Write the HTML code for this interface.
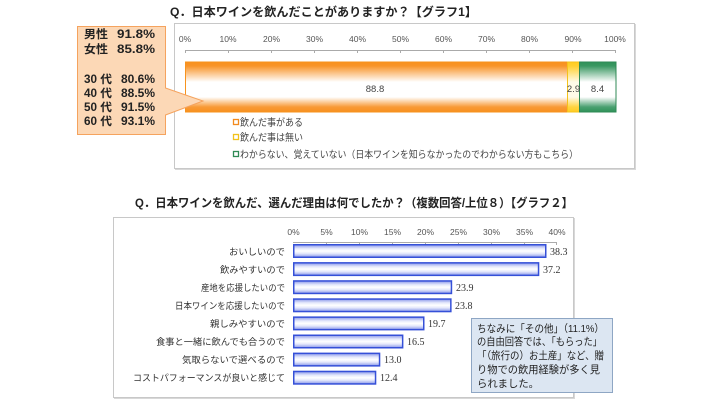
<!DOCTYPE html>
<html><head><meta charset="utf-8">
<style>
html,body{margin:0;padding:0;background:#fff;}
svg{display:block;}
text{font-family:"Liberation Sans","Noto Sans CJK JP",sans-serif;}
.serif{font-family:"Liberation Serif","Noto Serif CJK SC",serif;}
</style></head>
<body>
<svg width="715" height="400" viewBox="0 0 715 400" xmlns="http://www.w3.org/2000/svg">
<defs>
<linearGradient id="gO" x1="0" y1="0" x2="0" y2="1">
<stop offset="0" stop-color="#f7901e"/><stop offset="0.08" stop-color="#f8952a"/><stop offset="0.4" stop-color="#ffffff"/><stop offset="0.7" stop-color="#ffffff"/><stop offset="0.9" stop-color="#f89a36"/><stop offset="1" stop-color="#f7901e"/>
</linearGradient>
<linearGradient id="gY" x1="0" y1="0" x2="0" y2="1">
<stop offset="0" stop-color="#ffcc22"/><stop offset="0.08" stop-color="#ffd030"/><stop offset="0.4" stop-color="#fffbe8"/><stop offset="0.7" stop-color="#fffbe8"/><stop offset="0.9" stop-color="#ffd440"/><stop offset="1" stop-color="#ffcc22"/>
</linearGradient>
<linearGradient id="gG" x1="0" y1="0" x2="0" y2="1">
<stop offset="0" stop-color="#2f9158"/><stop offset="0.08" stop-color="#3a9862"/><stop offset="0.4" stop-color="#ffffff"/><stop offset="0.7" stop-color="#ffffff"/><stop offset="0.9" stop-color="#4aa070"/><stop offset="1" stop-color="#2f9158"/>
</linearGradient>
<linearGradient id="gB" x1="0" y1="0" x2="0" y2="1">
<stop offset="0" stop-color="#8896ea"/><stop offset="0.3" stop-color="#e4e8fb"/><stop offset="0.5" stop-color="#ffffff"/><stop offset="0.7" stop-color="#e4e8fb"/><stop offset="1" stop-color="#8896ea"/>
</linearGradient>
</defs>

<!-- ===== Chart 1 ===== -->
<text x="170" y="16" font-size="12" font-weight="bold" fill="#222" textLength="307" lengthAdjust="spacingAndGlyphs">Q．日本ワインを飲んだことがありますか？【グラフ1】</text>

<rect x="174.5" y="23.5" width="460" height="145" fill="#fff" stroke="#c8c8c8" stroke-width="1"/>
<line x1="175" y1="169.5" x2="635" y2="169.5" stroke="#d8d8d8" stroke-width="1"/>
<line x1="635.5" y1="24" x2="635.5" y2="170" stroke="#d8d8d8" stroke-width="1"/>

<g font-size="8.5" fill="#555" text-anchor="middle">
<text x="185" y="42">0%</text>
<text x="228" y="42">10%</text>
<text x="271.5" y="42">20%</text>
<text x="314.5" y="42">30%</text>
<text x="357.5" y="42">40%</text>
<text x="400.5" y="42">50%</text>
<text x="443.5" y="42">60%</text>
<text x="486.5" y="42">70%</text>
<text x="529.5" y="42">80%</text>
<text x="573" y="42">90%</text>
<text x="615" y="42">100%</text>
</g>
<g stroke="#aaa" stroke-width="1">
<line x1="185" y1="50.5" x2="616" y2="50.5"/>
<line x1="185.5" y1="50" x2="185.5" y2="53"/>
<line x1="228.5" y1="50" x2="228.5" y2="53"/>
<line x1="271.5" y1="50" x2="271.5" y2="53"/>
<line x1="314.5" y1="50" x2="314.5" y2="53"/>
<line x1="357.5" y1="50" x2="357.5" y2="53"/>
<line x1="400.5" y1="50" x2="400.5" y2="53"/>
<line x1="443.5" y1="50" x2="443.5" y2="53"/>
<line x1="486.5" y1="50" x2="486.5" y2="53"/>
<line x1="529.5" y1="50" x2="529.5" y2="53"/>
<line x1="572.5" y1="50" x2="572.5" y2="53"/>
<line x1="615.5" y1="50" x2="615.5" y2="53"/>
</g>

<rect x="185.5" y="62" width="382" height="50" fill="url(#gO)" stroke="#f7931e" stroke-width="1"/>
<rect x="567.5" y="62" width="12" height="50" fill="url(#gY)" stroke="#f5c21b" stroke-width="1"/>
<rect x="579.5" y="62" width="36.5" height="50" fill="url(#gG)" stroke="#2f8a55" stroke-width="1"/>

<g font-size="9.5" fill="#444" text-anchor="middle">
<text x="375" y="92">88.8</text>
<text x="573.5" y="92">2.9</text>
<text x="597.5" y="92">8.4</text>
</g>

<rect x="233.5" y="119.5" width="5" height="5" fill="#fff" stroke="#f28a1e" stroke-width="1.3"/>
<rect x="233.5" y="134.5" width="5" height="5" fill="#fff" stroke="#f2c21b" stroke-width="1.3"/>
<rect x="233.5" y="151.5" width="5" height="5" fill="#fff" stroke="#2f8a55" stroke-width="1.3"/>
<g font-size="10" fill="#444">
<text x="240" y="126" textLength="63" lengthAdjust="spacingAndGlyphs">飲んだ事がある</text>
<text x="240" y="141" textLength="63" lengthAdjust="spacingAndGlyphs">飲んだ事は無い</text>
<text x="240" y="158" textLength="338" lengthAdjust="spacingAndGlyphs">わからない、覚えていない（日本ワインを知らなかったのでわからない方もこちら）</text>
</g>

<!-- callout -->
<path d="M77.5 26.5 H165.5 V88 L203 101 L165.5 115 V134.5 H77.5 Z" fill="#fcd8b6" stroke="#f5a35e" stroke-width="1"/>
<g font-size="11.5" font-weight="bold" fill="#222">
<text x="84" y="38" textLength="24" lengthAdjust="spacingAndGlyphs">男性</text>
<text x="117" y="38" textLength="38" lengthAdjust="spacingAndGlyphs">91.8%</text>
<text x="84" y="53" textLength="24" lengthAdjust="spacingAndGlyphs">女性</text>
<text x="117" y="53" textLength="38" lengthAdjust="spacingAndGlyphs">85.8%</text>
<text x="84" y="83" textLength="28" lengthAdjust="spacingAndGlyphs">30 代</text>
<text x="121" y="83" textLength="34" lengthAdjust="spacingAndGlyphs">80.6%</text>
<text x="84" y="97" textLength="28" lengthAdjust="spacingAndGlyphs">40 代</text>
<text x="121" y="97" textLength="34" lengthAdjust="spacingAndGlyphs">88.5%</text>
<text x="84" y="111" textLength="28" lengthAdjust="spacingAndGlyphs">50 代</text>
<text x="121" y="111" textLength="34" lengthAdjust="spacingAndGlyphs">91.5%</text>
<text x="84" y="125" textLength="28" lengthAdjust="spacingAndGlyphs">60 代</text>
<text x="121" y="125" textLength="34" lengthAdjust="spacingAndGlyphs">93.1%</text>
</g>

<!-- ===== Chart 2 ===== -->
<text x="135" y="207" font-size="12" font-weight="bold" fill="#222" textLength="438" lengthAdjust="spacingAndGlyphs">Q．日本ワインを飲んだ、選んだ理由は何でしたか？（複数回答/上位８）【グラフ２】</text>

<rect x="113.5" y="217.5" width="460" height="180" fill="#fff" stroke="#c8c8c8" stroke-width="1"/>
<line x1="114" y1="398.5" x2="574" y2="398.5" stroke="#d8d8d8" stroke-width="1"/>
<line x1="574.5" y1="218" x2="574.5" y2="399" stroke="#d8d8d8" stroke-width="1"/>

<g font-size="8.5" fill="#555" text-anchor="middle">
<text x="293.5" y="235">0%</text>
<text x="326.5" y="235">5%</text>
<text x="359.5" y="235">10%</text>
<text x="392.5" y="235">15%</text>
<text x="425.5" y="235">20%</text>
<text x="458.5" y="235">25%</text>
<text x="491.5" y="235">30%</text>
<text x="524.5" y="235">35%</text>
<text x="557" y="235">40%</text>
</g>
<g stroke="#aaa" stroke-width="1">
<line x1="293" y1="242.5" x2="557" y2="242.5"/>
<line x1="326.5" y1="242" x2="326.5" y2="245"/>
<line x1="359.5" y1="242" x2="359.5" y2="245"/>
<line x1="392.5" y1="242" x2="392.5" y2="245"/>
<line x1="425.5" y1="242" x2="425.5" y2="245"/>
<line x1="458.5" y1="242" x2="458.5" y2="245"/>
<line x1="491.5" y1="242" x2="491.5" y2="245"/>
<line x1="524.5" y1="242" x2="524.5" y2="245"/>
<line x1="556.5" y1="242" x2="556.5" y2="245"/>
</g>

<g stroke="#3550d8" stroke-width="1.5" fill="url(#gB)">
<rect x="293.75" y="244.75" width="252" height="12.5"/>
<rect x="293.75" y="262.85" width="244.8" height="12.5"/>
<rect x="293.75" y="280.95" width="157.7" height="12.5"/>
<rect x="293.75" y="299.05" width="157.1" height="12.5"/>
<rect x="293.75" y="317.15" width="130" height="12.5"/>
<rect x="293.75" y="335.25" width="108.9" height="12.5"/>
<rect x="293.75" y="353.35" width="85.8" height="12.5"/>
<rect x="293.75" y="371.45" width="81.8" height="12.5"/>
</g>

<g font-size="9.3" fill="#333" text-anchor="end">
<text x="285" y="255" textLength="56" lengthAdjust="spacingAndGlyphs">おいしいので</text>
<text x="285" y="273" textLength="65" lengthAdjust="spacingAndGlyphs">飲みやすいので</text>
<text x="285" y="291" textLength="84" lengthAdjust="spacingAndGlyphs">産地を応援したいので</text>
<text x="285" y="309" textLength="110" lengthAdjust="spacingAndGlyphs">日本ワインを応援したいので</text>
<text x="285" y="327" textLength="75" lengthAdjust="spacingAndGlyphs">親しみやすいので</text>
<text x="285" y="345" textLength="129" lengthAdjust="spacingAndGlyphs">食事と一緒に飲んでも合うので</text>
<text x="285" y="363" textLength="103" lengthAdjust="spacingAndGlyphs">気取らないで選べるので</text>
<text x="285" y="381" textLength="152" lengthAdjust="spacingAndGlyphs">コストパフォーマンスが良いと感じて</text>
</g>

<g font-size="10" fill="#333">
<text class="serif" x="550" y="255">38.3</text>
<text class="serif" x="543" y="273">37.2</text>
<text class="serif" x="456" y="291">23.9</text>
<text class="serif" x="455" y="309">23.8</text>
<text class="serif" x="428" y="327">19.7</text>
<text class="serif" x="407" y="345">16.5</text>
<text class="serif" x="384" y="363">13.0</text>
<text class="serif" x="380" y="381">12.4</text>
</g>

<!-- note box -->
<rect x="471.5" y="318.5" width="141" height="74" fill="#dce6f2" stroke="#8ea6c4" stroke-width="1"/>
<g font-size="10.5" fill="#222">
<text x="477" y="332" textLength="127" lengthAdjust="spacingAndGlyphs">ちなみに「その他」（11.1%）</text>
<text x="477" y="345" textLength="125" lengthAdjust="spacingAndGlyphs">の自由回答では、「もらった」</text>
<text x="477" y="359" textLength="127" lengthAdjust="spacingAndGlyphs">「（旅行の）お土産」など、贈</text>
<text x="477" y="373" textLength="123" lengthAdjust="spacingAndGlyphs">り物での飲用経験が多く見</text>
<text x="477" y="387" textLength="62" lengthAdjust="spacingAndGlyphs">られました。</text>
</g>
</svg>
</body></html>
